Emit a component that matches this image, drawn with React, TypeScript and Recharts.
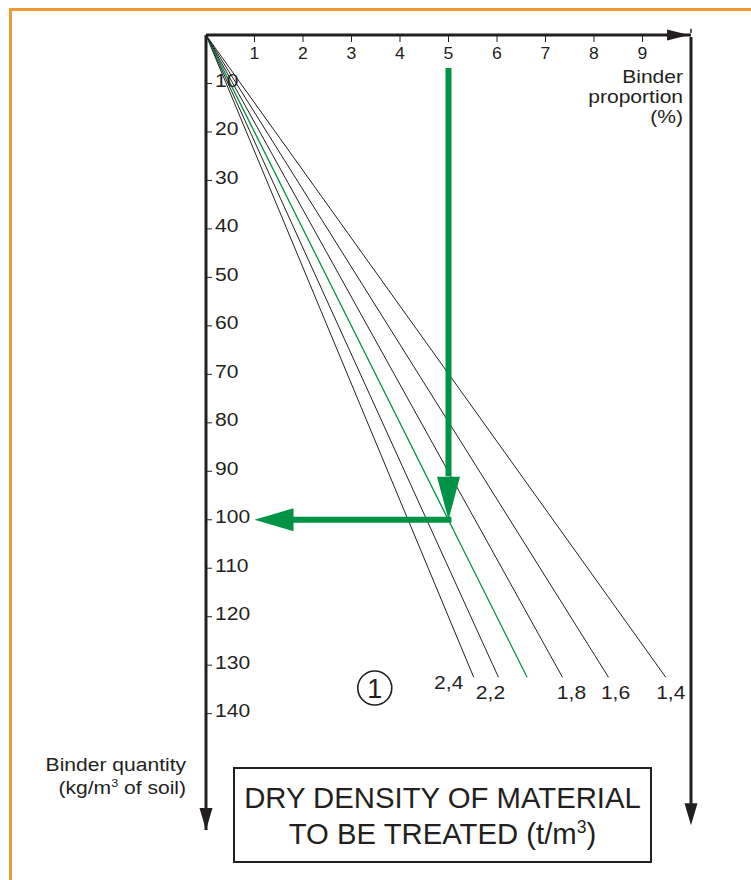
import { LineChart, Line, XAxis, YAxis, ReferenceLine, ReferenceDot } from "recharts"

const INK = "#231f20"
const GREEN = "#009245"
const ORANGE = "#ec9a32"
const FONT = '"Liberation Sans", Arial, Helvetica, sans-serif'
const STRETCH = 1.17

// axis ticks
const proportionTicks = [1, 2, 3, 4, 5, 6, 7, 8, 9]
const quantityTicks = [10, 20, 30, 40, 50, 60, 70, 80, 90, 100, 110, 120, 130, 140]

// dry density lines, steepest first, and where each one stops
const densityLabels = ["2,4", "2,2", "2,0", "1,8", "1,6", "1,4"]
const endProportion = [5.52, 6.03, 6.62, 7.35, 8.3, 9.48]
const endQuantity = [132.5, 132.5, 132.5, 132.5, 132.5, 132.5]

// worked example read on the 2,0 line
const exampleProportion = 5
const exampleQuantity = 100
const exampleStartQuantity = 6.8
const exampleEndProportion = 1.0

const series = densityLabels.map((label, i) => ({
  label,
  data: [
    { p: 0, q: 0 },
    { p: endProportion[i], q: endQuantity[i] },
  ],
}))

// label offsets from the end of each line (px), null = no label
const labelOffset: ([number, number] | null)[] = [[-25, 12], [-8, 22], null, [9, 22], [7, 22], [5, 22]]

const arrow = (dir: "right" | "down" | "left", len: number, half: number, fill: string) => (props: any) => {
  const { cx, cy } = props
  let pts = ""
  if (dir === "right") pts = `${cx},${cy} ${cx - len},${cy - half} ${cx - len},${cy + half}`
  if (dir === "left") pts = `${cx},${cy} ${cx + len},${cy - half} ${cx + len},${cy + half}`
  if (dir === "down") pts = `${cx},${cy} ${cx - half},${cy - len} ${cx + half},${cy - len}`
  return <polygon points={pts} fill={fill} />
}

// the source lettering is a horizontally stretched Helvetica
const WideText = ({ x, y, anchor = "start", size = 18, sx = STRETCH, children }: any) => (
  <text
    transform={`translate(${x},${y}) scale(${sx},1)`}
    textAnchor={anchor}
    fontSize={size}
    fill={INK}
    fontFamily={FONT}
  >
    {children}
  </text>
)

const QuantityTick = (props: any) => (
  <WideText x={props.x} y={props.y + 3.5}>
    {props.payload.value}
  </WideText>
)

const ProportionTick = (props: any) => (
  <WideText x={props.x} y={props.y + 11.5} anchor="middle" size={16} sx={1.1}>
    {props.payload.value}
  </WideText>
)

const sup = <sup style={{ fontSize: "0.6em", verticalAlign: "super", lineHeight: 0 }}>3</sup>

export default function App() {
  return (
    <div
      style={{
        position: "absolute",
        left: 0,
        top: 0,
        width: 751,
        height: 880,
        overflow: "hidden",
        background: "#fff",
        fontFamily: FONT,
        color: INK,
      }}
    >
      <div
        style={{
          position: "absolute",
          left: 9,
          top: 8,
          width: 800,
          height: 900,
          borderTop: `3px solid ${ORANGE}`,
          borderLeft: `3px solid ${ORANGE}`,
        }}
      />
      <div style={{ position: "absolute", left: 0, top: 0 }}>
        <LineChart width={751} height={880} margin={{ top: 35, right: 60, bottom: 50, left: 206 }}>
          <XAxis
            type="number"
            dataKey="p"
            domain={[0, 10]}
            ticks={proportionTicks}
            orientation="top"
            mirror
            allowDataOverflow
            axisLine={{ stroke: INK, strokeWidth: 3 }}
            tickLine={{ stroke: INK, strokeWidth: 1 }}
            tickSize={7}
            tickMargin={5}
            tick={<ProportionTick />}
          />
          <YAxis
            type="number"
            domain={[0, 164]}
            reversed
            ticks={quantityTicks}
            orientation="left"
            mirror
            allowDataOverflow
            axisLine={{ stroke: INK, strokeWidth: 3 }}
            tickLine={{ stroke: INK, strokeWidth: 1 }}
            tickSize={6}
            tickMargin={3}
            tick={<QuantityTick />}
          />

          {series.map((s) => (
            <Line
              key={s.label}
              data={s.data}
              dataKey="q"
              stroke={s.label === "2,0" ? GREEN : INK}
              strokeWidth={s.label === "2,0" ? 1.3 : 1}
              dot={false}
              isAnimationActive={false}
            />
          ))}

          {series.map((s, i) => {
            const off = labelOffset[i]
            if (!off) return null
            return (
              <ReferenceDot
                key={"lbl" + s.label}
                x={endProportion[i]}
                y={endQuantity[i]}
                shape={(p: any) => (
                  <WideText x={p.cx + off[0]} y={p.cy + off[1]} anchor="middle">
                    {s.label}
                  </WideText>
                )}
              />
            )
          })}

          {/* right hand frame line */}
          <ReferenceLine
            segment={[
              { x: 10, y: 0.4 },
              { x: 10, y: 159 },
            ]}
            stroke={INK}
            strokeWidth={3}
          />
          <ReferenceLine
            segment={[
              { x: 10, y: -1.3 },
              { x: 10, y: -0.4 },
            ]}
            stroke={INK}
            strokeWidth={1.5}
            ifOverflow="visible"
          />
          <ReferenceDot x={10} y={163} shape={arrow("down", 22, 6.5, INK)} />
          <ReferenceDot x={9.96} y={0} shape={arrow("right", 22, 5.5, INK)} />
          <ReferenceDot x={0} y={164} shape={arrow("down", 22, 6.5, INK)} />

          {/* worked example arrows */}
          <ReferenceLine
            segment={[
              { x: exampleProportion, y: exampleStartQuantity },
              { x: exampleProportion, y: exampleQuantity - 9 },
            ]}
            stroke={GREEN}
            strokeWidth={6}
          />
          <ReferenceDot x={exampleProportion} y={exampleQuantity} shape={arrow("down", 43, 11.5, GREEN)} />
          <ReferenceLine
            segment={[
              { x: exampleProportion + 0.06, y: exampleQuantity },
              { x: exampleEndProportion + 0.7, y: exampleQuantity },
            ]}
            stroke={GREEN}
            strokeWidth={6}
          />
          <ReferenceDot x={exampleEndProportion} y={exampleQuantity} shape={arrow("left", 39, 11.5, GREEN)} />

          {/* chart number */}
          <ReferenceDot
            x={3.48}
            y={134.7}
            r={17}
            fill="#fff"
            stroke={INK}
            strokeWidth={1.6}
            label={{ value: "1", position: "center", fontSize: 27, fill: INK, fontFamily: FONT }}
          />
        </LineChart>
      </div>

      <div
        style={{
          position: "absolute",
          right: 751 - 683,
          top: 67,
          fontSize: 18,
          lineHeight: "20px",
          textAlign: "right",
          transform: `scaleX(${STRETCH})`,
          transformOrigin: "right",
        }}
      >
        Binder
        <br />
        proportion
        <br />
        (%)
      </div>

      <div
        style={{
          position: "absolute",
          right: 751 - 186,
          top: 754,
          fontSize: 18,
          lineHeight: "23px",
          textAlign: "right",
          whiteSpace: "nowrap",
          transform: `scaleX(${STRETCH})`,
          transformOrigin: "right",
        }}
      >
        Binder quantity
        <br />
        (kg/m{sup} of soil)
      </div>

      <div
        style={{
          position: "absolute",
          left: 233,
          top: 767,
          width: 415,
          height: 92,
          border: `2px solid ${INK}`,
          boxSizing: "content-box",
          fontSize: 29.3,
          lineHeight: "36px",
          textAlign: "center",
          whiteSpace: "nowrap",
        }}
      >
        <div style={{ marginTop: 11 }}>DRY DENSITY OF MATERIAL</div>
        <div>TO BE TREATED (t/m{sup})</div>
      </div>
    </div>
  )
}
